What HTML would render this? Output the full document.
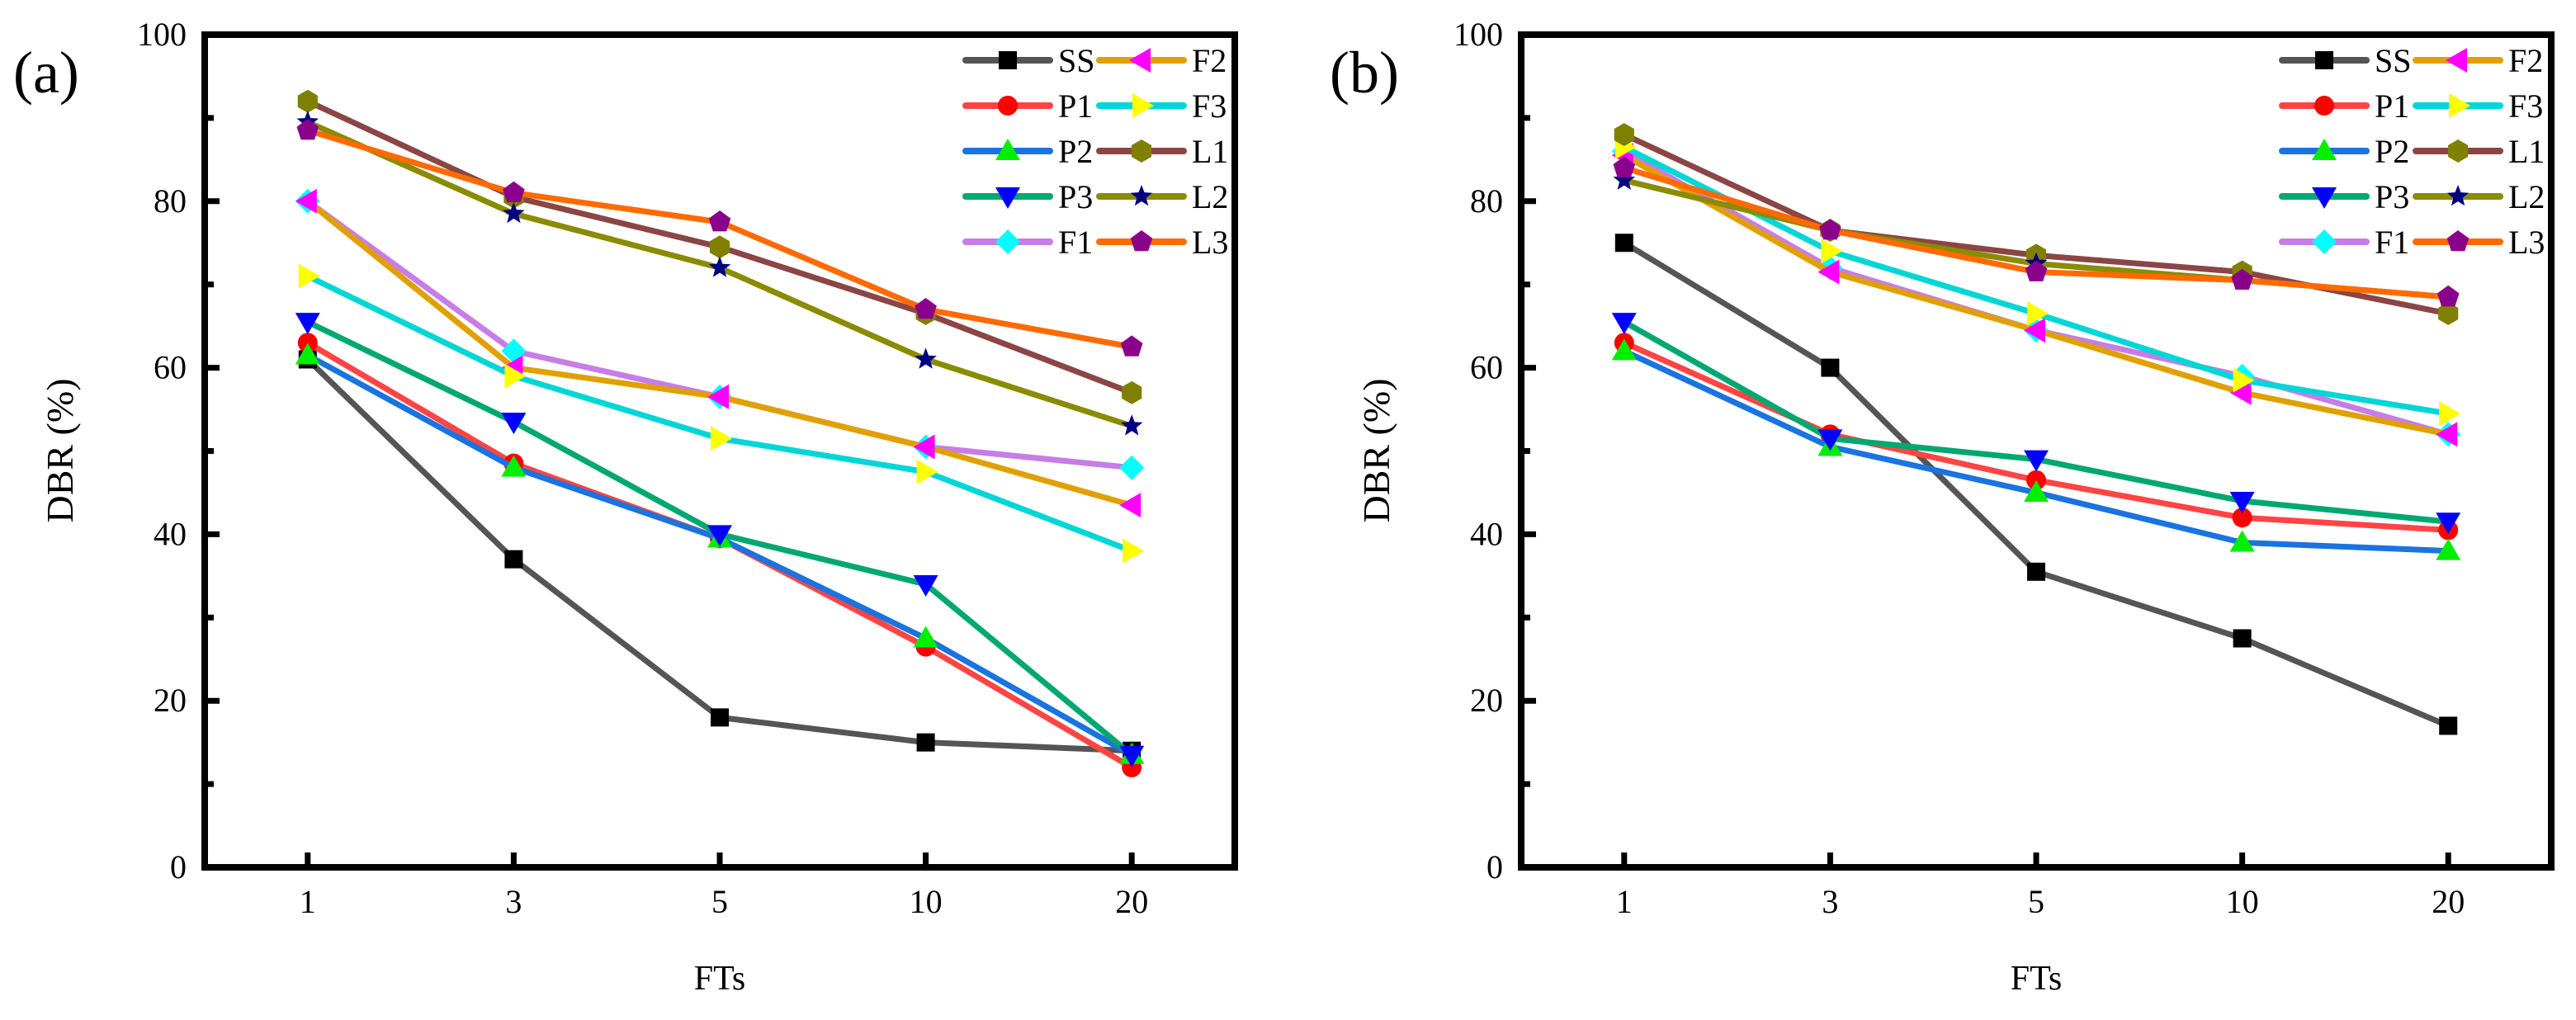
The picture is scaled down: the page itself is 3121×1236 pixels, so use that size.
<!DOCTYPE html>
<html><head><meta charset="utf-8"><style>
html,body{margin:0;padding:0;background:#fff;}
svg, svg text{font-family:"Liberation Serif","Times New Roman",serif;}
</style></head><body>
<svg id="chart" width="3121" height="1231" viewBox="0 0 3121 1231" xmlns="http://www.w3.org/2000/svg" font-family="Liberation Serif, serif"></svg>
<script>
const categories = ["1","3","5","10","20"];
const seriesNames = ["SS","P1","P2","P3","F1","F2","F3","L1","L2","L3"];
const yTicks = [0,20,40,60,80,100];
const aSS = [61,37,18,15,14];
const aP1 = [63,48.5,39.5,26.5,12];
const aP2 = [61.5,48,39.5,27.5,13.5];
const aP3 = [65.5,53.5,40,34,13.5];
const aF1 = [80,62,56.5,50.5,48];
const aF2 = [80,60,56.5,50.5,43.5];
const aF3 = [71,59,51.5,47.5,38];
const aL1 = [92,80.5,74.5,66.5,57];
const aL2 = [89.5,78.5,72,61,53];
const aL3 = [88.5,81,77.5,67,62.5];
const bSS = [75,60,35.5,27.5,17];
const bP1 = [63,52,46.5,42,40.5];
const bP2 = [62,50.5,45,39,38];
const bP3 = [65.5,51.5,49,44,41.5];
const bF1 = [86,72,64.5,59,52];
const bF2 = [85.5,71.5,64.5,57,52];
const bF3 = [86.5,74,66.5,58.5,54.5];
const bL1 = [88,76.5,73.5,71.5,66.5];
const bL2 = [82.5,76.5,72.5,70.5,68.5];
const bL3 = [84,76.5,71.5,70.5,68.5];

const lineColors = ["#555555","#ff4444","#1a73e0","#00a870","#c77de6","#e0a000","#00d6d6","#8b4545","#8b8b00","#ff6a00"];
const markerColors = ["#000000","#ff0000","#00ee00","#0000ff","#00ffff","#ff00ff","#ffff00","#808000","#000080","#8b008b"];
const markerShapes = ["square","circle","up","down","diamond","left","right","hexagon","star","pentagon"];

const NS="http://www.w3.org/2000/svg";
const FONT="Liberation Serif, serif";
const svg=document.getElementById('chart');
function mk(tag,attrs,parent){const e=document.createElementNS(NS,tag);for(const k in attrs)e.setAttribute(k,attrs[k]);if(tag==='text')e.setAttribute('font-family',FONT);(parent||svg).appendChild(e);return e;}

function polyPts(cx,cy,r,n,rot){let p=[];for(let i=0;i<n;i++){const a=rot+i*2*Math.PI/n;p.push((cx+r*Math.cos(a)).toFixed(1)+","+(cy+r*Math.sin(a)).toFixed(1));}return p.join(" ");}
function marker(g,shape,cx,cy,color){
  let e;
  if(shape==="square") e=mk('rect',{x:cx-11,y:cy-11,width:22,height:22,fill:color},g);
  else if(shape==="circle") e=mk('circle',{cx:cx,cy:cy,r:12,fill:color},g);
  else if(shape==="up") e=mk('polygon',{points:`${cx},${cy-15} ${cx+15},${cy+11} ${cx-15},${cy+11}`,fill:color},g);
  else if(shape==="down") e=mk('polygon',{points:`${cx},${cy+15} ${cx+15},${cy-11} ${cx-15},${cy-11}`,fill:color},g);
  else if(shape==="left") e=mk('polygon',{points:`${cx-15},${cy} ${cx+11},${cy-15} ${cx+11},${cy+15}`,fill:color},g);
  else if(shape==="right") e=mk('polygon',{points:`${cx+15},${cy} ${cx-11},${cy-15} ${cx-11},${cy+15}`,fill:color},g);
  else if(shape==="diamond") e=mk('polygon',{points:polyPts(cx,cy,15,4,-Math.PI/2),fill:color},g);
  else if(shape==="hexagon") e=mk('polygon',{points:polyPts(cx,cy,14,6,-Math.PI/2),fill:color},g);
  else if(shape==="pentagon") e=mk('polygon',{points:polyPts(cx,cy,14,5,-Math.PI/2),fill:color},g);
  else if(shape==="star"){let p=[];for(let i=0;i<10;i++){const r=i%2?6:14;const a=-Math.PI/2+i*Math.PI/5;p.push((cx+r*Math.cos(a)).toFixed(1)+","+(cy+r*Math.sin(a)).toFixed(1));}e=mk('polygon',{points:p.join(" "),fill:color},g);}
  
  
  return e;
}

function panel(id,left,label,data){
  const right=left+1248, top=42, bottom=1051;
  const xS=i=>left+(i+0.5)*(right-left)/5;
  const yS=v=>bottom-v/100*(bottom-top);
  const g=mk('g',{});
  
  
  for(let v=0;v<=100;v+=10){
    const major=v%20===0;
    const t=mk('line',{x1:left,x2:left+(major?18:11),y1:yS(v),y2:yS(v),stroke:'#000','stroke-width':7},g);
    
    
  }
  yTicks.forEach(v=>{
    const t=mk('text',{x:left-22,y:yS(v)+13,'text-anchor':'end','font-size':40},g);
    t.textContent=v;
    
    
  });
  categories.forEach((c,i)=>{
    const tk=mk('line',{x1:xS(i),x2:xS(i),y1:bottom,y2:bottom-18,stroke:'#000','stroke-width':7},g);
    
    
    const t=mk('text',{x:xS(i),y:bottom+55,'text-anchor':'middle','font-size':40},g);
    t.textContent=c;
    
    
  });
  const frame=mk('rect',{x:left,y:top,width:right-left,height:bottom-top,fill:'none',stroke:'#000','stroke-width':8},g);
  
  
  const xt=mk('text',{x:(left+right)/2,y:1199,'text-anchor':'middle','font-size':42},g);
  xt.textContent='FTs';
  
  
  const yx=left-160;
  const yt=mk('text',{x:yx,y:546,'text-anchor':'middle','font-size':46,transform:`rotate(-90 ${yx} 546)`},g);
  yt.textContent='DBR (%)';
  
  
  const pl=mk('text',{x:left-232,y:112,'font-size':72},g);
  pl.textContent=label;
  
  
  data.forEach((arr,s)=>{
    const sg=mk('g',{},g);
    
    
    const pl=mk('polyline',{points:arr.map((v,i)=>xS(i)+','+yS(v)).join(' '),fill:'none',stroke:lineColors[s],'stroke-width':7,'stroke-linejoin':'round'},sg);
    
    
    arr.forEach((v,i)=>marker(sg,markerShapes[s],xS(i),yS(v),markerColors[s]));
  });
  const lg=mk('g',{},g);
  
  
  seriesNames.forEach((n,s)=>{
    const col=Math.floor(s/5), row=s%5;
    const lx=left+922+col*162, ly=73+row*55;
    const eg=mk('g',{},lg);
    
    
    mk('line',{x1:lx,x2:lx+102,y1:ly,y2:ly,stroke:lineColors[s],'stroke-width':8,'stroke-linecap':'round'},eg);
    marker(eg,markerShapes[s],lx+51,ly,markerColors[s]);
    const t=mk('text',{x:lx+112,y:ly+14,'font-size':40},eg);
    t.textContent=n;
  });
}
panel('a',248,'(a)',[aSS,aP1,aP2,aP3,aF1,aF2,aF3,aL1,aL2,aL3]);
panel('b',1843,'(b)',[bSS,bP1,bP2,bP3,bF1,bF2,bF3,bL1,bL2,bL3]);
</script>
</body></html>
